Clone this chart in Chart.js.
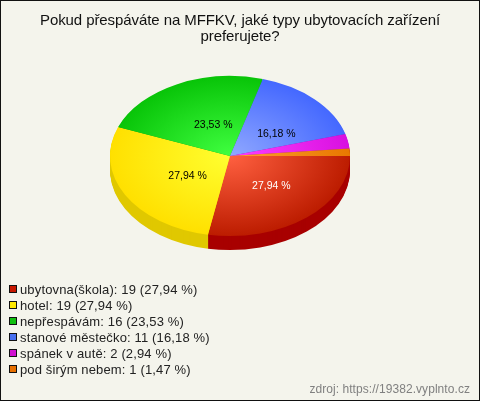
<!DOCTYPE html>
<html>
<head>
<meta charset="utf-8">
<style>
  html, body { margin: 0; padding: 0; background: #f4f4ec; }
  canvas { display: block; }
</style>
<script src="https://cdn.jsdelivr.net/npm/chart.js@4"></script>
</head>
<body>
<canvas id="pie" width="480" height="401"></canvas>
<script>
const titleLines = ['Pokud přespáváte na MFFKV, jaké typy ubytovacích zařízení', 'preferujete?'];
const categories = ['ubytovna(škola)', 'hotel', 'nepřespávám', 'stanové městečko', 'spánek v autě', 'pod širým nebem'];
const counts = [19, 19, 16, 11, 2, 1];
const percents = ['27,94', '27,94', '23,53', '16,18', '2,94', '1,47'];
const sourceText = 'zdroj: https://19382.vyplnto.cz';

const swatchColors = ['#c81800', '#ffe800', '#10c010', '#4870f0', '#d010d0', '#e87000'];
const innerColors = ['#ff6040', '#ffff30', '#40ff40', '#90a8ff', '#ff40ff', '#ffa030'];
const outerColors = ['#bc1c00', '#ffe000', '#08c408', '#4468ff', '#d810e0', '#e87800'];
const sideColors = ['#a80000', '#e0c800', '#08a008', '#3050c0', '#a010a0', '#a80000'];
const labelColors = ['#ffffff', '#000000', '#000000', '#000000'];
// the original places its labels a little off the slice middle
const labelNudge = [[3, -2], [10, 0], [10, 4], [4, 5]];

const FONT = '"Liberation Sans", Arial, sans-serif';
const SQUASH = 2 / 3;
const DEPTH = 14;

function squashAt(ctx, arc, dy) {
  ctx.translate(arc.x, arc.y + dy);
  ctx.scale(1, SQUASH);
  ctx.translate(-arc.x, -arc.y);
}

const pie3d = {
  id: 'pie3d',
  beforeDraw(chart) {
    const ctx = chart.ctx;
    ctx.save();
    ctx.fillStyle = '#f4f4ec';
    ctx.fillRect(0, 0, chart.width, chart.height);
    ctx.strokeStyle = '#111111';
    ctx.lineWidth = 1;
    ctx.strokeRect(0.5, 0.5, chart.width - 1, chart.height - 1);
    ctx.restore();
  },
  beforeDatasetsDraw(chart) {
    const ctx = chart.ctx;
    const arcs = chart.getDatasetMeta(0).data;
    // rim: the same arcs redrawn darker, stepping down
    for (let dy = DEPTH; dy >= 1; dy--) {
      arcs.forEach((arc, i) => {
        const saved = arc.options;
        arc.options = Object.assign({}, saved, { backgroundColor: sideColors[i], borderWidth: 0 });
        ctx.save();
        squashAt(ctx, arc, dy);
        arc.draw(ctx);
        ctx.restore();
        arc.options = saved;
      });
    }
    ctx.save();
    squashAt(ctx, arcs[0], 0);
  },
  afterDatasetsDraw(chart) {
    const ctx = chart.ctx;
    ctx.restore();
    const arcs = chart.getDatasetMeta(0).data;

    ctx.save();
    ctx.textBaseline = 'alphabetic';

    // slice labels
    ctx.font = '10.5px ' + FONT;
    ctx.textAlign = 'center';
    labelNudge.forEach((nudge, i) => {
      const p = arcs[i].getCenterPoint();
      ctx.fillStyle = labelColors[i];
      ctx.fillText(percents[i] + ' %', p.x + nudge[0], arcs[i].y + (p.y - arcs[i].y) * SQUASH + nudge[1] + 4);
    });

    // title
    ctx.font = '15px ' + FONT;
    ctx.letterSpacing = '-0.08px';
    ctx.fillStyle = '#111111';
    titleLines.forEach((line, i) => ctx.fillText(line, 240, 25 + i * 16));

    // legend
    ctx.textAlign = 'left';
    ctx.font = '13px ' + FONT;
    ctx.letterSpacing = '0.14px';
    categories.forEach((name, i) => {
      const y = 285 + i * 16;
      ctx.fillStyle = swatchColors[i];
      ctx.fillRect(9, y, 8, 8);
      ctx.strokeStyle = '#111111';
      ctx.lineWidth = 1;
      ctx.strokeRect(9.5, y + 0.5, 7, 7);
      ctx.fillStyle = '#222222';
      ctx.fillText(name + ': ' + counts[i] + ' (' + percents[i] + ' %)', 20, y + 9);
    });

    // source note
    ctx.textAlign = 'right';
    ctx.font = '12px ' + FONT;
    ctx.letterSpacing = '0.06px';
    ctx.fillStyle = '#808080';
    ctx.fillText(sourceText, 470, 393);
    ctx.restore();
  }
};

new Chart(document.getElementById('pie'), {
  type: 'pie',
  data: {
    labels: categories,
    datasets: [{
      data: counts,
      borderWidth: 0,
      backgroundColor(c) {
        const area = c.chart.chartArea;
        if (!area) return swatchColors[c.dataIndex];
        const cx = (area.left + area.right) / 2;
        const cy = (area.top + area.bottom) / 2;
        const g = c.chart.ctx.createRadialGradient(cx, cy, 0, cx, cy, (area.right - area.left) / 2);
        g.addColorStop(0, innerColors[c.dataIndex]);
        g.addColorStop(1, outerColors[c.dataIndex]);
        return g;
      }
    }]
  },
  options: {
    responsive: false,
    animation: false,
    rotation: 90,
    layout: { padding: { left: 110, right: 130, top: 36, bottom: 125 } },
    plugins: { legend: { display: false }, tooltip: { enabled: false } }
  },
  plugins: [pie3d]
});
</script>
</body>
</html>
